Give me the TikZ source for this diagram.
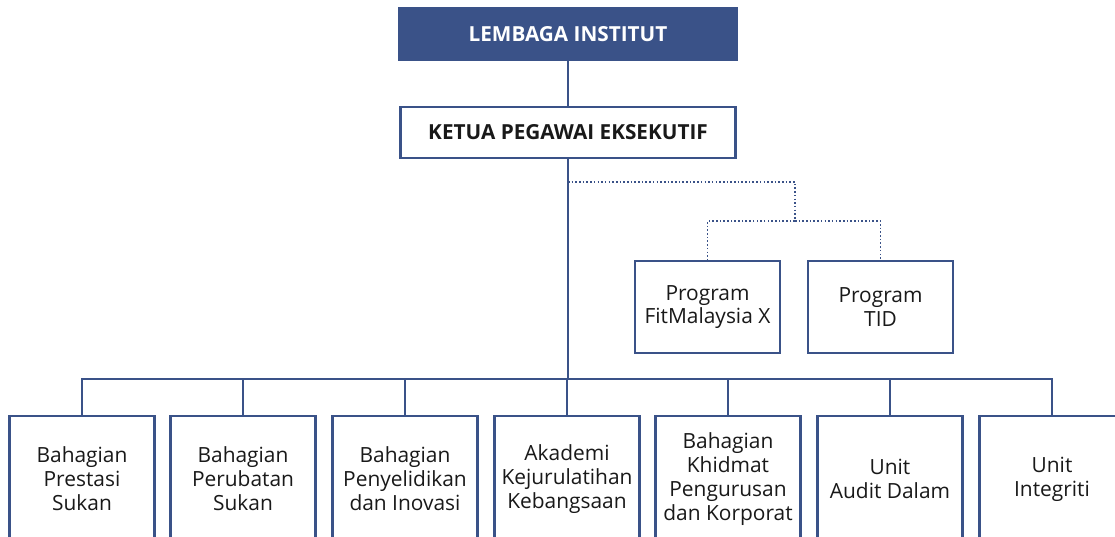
\documentclass[tikz,border=0pt]{standalone}
\usepackage{fontspec}
\setmainfont{Open Sans}
\usetikzlibrary{positioning}

\definecolor{orgblue}{RGB}{58,82,136}

\begin{document}
\begin{tikzpicture}[x=0.02cm,y=-0.02cm,
	box/.style={rectangle,draw=orgblue,line width=1.3pt,fill=white,inner sep=0pt,
		align=center,text=black!90,font=\fontsize{11.9}{13.6}\selectfont},
	unitbox/.style={box,minimum width=2.9cm,minimum height=2.52cm},
	progbox/.style={box,minimum width=2.9cm,minimum height=1.84cm},
	link/.style={draw=orgblue,line width=0.85pt},
	dotlink/.style={draw=orgblue,line width=0.9pt,dash pattern=on 0.9pt off 1.2pt}]
\useasboundingbox (0,0) rectangle (1115,537);

\node [box,fill=orgblue,text=white,minimum width=6.76cm,minimum height=1.04cm,font=\fontsize{11.8}{13}\selectfont\bfseries] (lembaga) at (568,34) {LEMBAGA INSTITUT};
\node [box,minimum width=6.7cm,minimum height=1.02cm,font=\fontsize{11.8}{13}\selectfont\bfseries] (ketua) at (568,132.5) {KETUA PEGAWAI EKSEKUTIF};

% programmes
\node [progbox] (fit) at (707.5,307) {Program\\FitMalaysia X};
\node [progbox] (tid) at (880.5,307) {Program\\TID};

% bahagian dan unit
\foreach \n/\txt [count=\i] in {
	82/{Bahagian\\Prestasi\\Sukan},
	243/{Bahagian\\Perubatan\\Sukan},
	405/{Bahagian\\Penyelidikan\\dan Inovasi},
	567/{Akademi\\Kejurulatihan\\Kebangsaan},
	728/{Bahagian\\Khidmat\\Pengurusan\\dan Korporat},
	890/{Unit\\Audit Dalam},
	1052/{Unit\\Integriti}}
	\node [unitbox] (b\i) at (\n,479) {\txt};

\coordinate (bus) at (568,379);
\coordinate (dotstart) at (568,182);
\coordinate (split) at (795,221);

\draw [link] (lembaga) -- (ketua);
\draw [link] (ketua) -- (bus);
\foreach \i in {1,...,7}
	\draw [link] (bus) -| (b\i.north);

\draw [dotlink] (dotstart) -| (split);
\draw [dotlink] (split) -| (fit.north);
\draw [dotlink] (split) -| (tid.north);
\end{tikzpicture}
\end{document}
